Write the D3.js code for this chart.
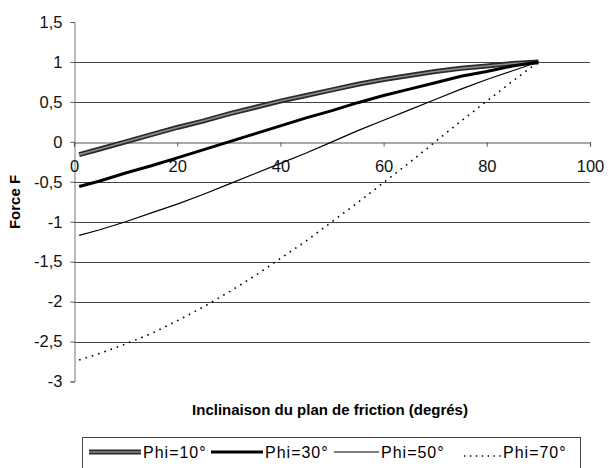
<!DOCTYPE html>
<html>
<head>
<meta charset="utf-8">
<script src="https://cdn.jsdelivr.net/npm/d3@7"></script>
<style>
  body { margin: 0; background: #fff; }
  svg { display: block; font-family: "Liberation Sans", Arial, sans-serif; }
</style>
</head>
<body>
<script>
// angle of the friction plane (degrees)
var angles = [1, 5, 10, 15, 20, 25, 30, 35, 40, 45, 50, 55, 60, 65, 70, 75, 80, 85, 90];
// force values
var phi10 = [-0.16, -0.09, 0, 0.09, 0.18, 0.26, 0.35, 0.43, 0.51, 0.58, 0.65, 0.72, 0.78, 0.83, 0.88, 0.92, 0.95, 0.98, 1];
var phi30 = [-0.56, -0.49, -0.39, -0.30, -0.20, -0.10, 0, 0.10, 0.20, 0.30, 0.39, 0.49, 0.58, 0.66, 0.74, 0.82, 0.88, 0.95, 1];
var phi50 = [-1.17, -1.10, -1.00, -0.89, -0.78, -0.66, -0.53, -0.40, -0.27, -0.14, 0, 0.14, 0.27, 0.40, 0.53, 0.66, 0.78, 0.89, 1];
var phi70 = [-2.73, -2.65, -2.53, -2.40, -2.24, -2.07, -1.88, -1.68, -1.46, -1.24, -1.00, -0.76, -0.51, -0.26, 0, 0.26, 0.51, 0.76, 1];
var seriesNames = ["Phi=10°", "Phi=30°", "Phi=50°", "Phi=70°"];
var xTicks = [0, 20, 40, 60, 80, 100];
var yTicks = [1.5, 1, 0.5, 0, -0.5, -1, -1.5, -2, -2.5, -3];

var width = 608, height = 468;
var svg = d3.select("body").append("svg")
    .attr("width", width)
    .attr("height", height);

var x = d3.scaleLinear().domain([0, 100]).range([74, 590]);
var y = d3.scaleLinear().domain([-3, 1.5]).range([381.5, 22]);

var fmt = function(d){ return String(d).replace(".", ","); };

//horizontal gridlines
svg.selectAll(".grid")
    .data(yTicks.filter(function(d){ return d < 1.5 && d > -3 && d != 0; }))
    .enter()
    .append("line")
    .attr("class", "grid")
    .attr("x1", x(0)).attr("x2", x(100))
    .attr("y1", function(d){ return Math.round(y(d)) + 0.5; })
    .attr("y2", function(d){ return Math.round(y(d)) + 0.5; })
    .style("stroke", "#444")
    .style("stroke-width", 1.2);

//y axis
var yAxis = d3.axisLeft(y).tickValues(yTicks).tickSize(4).tickPadding(8).tickFormat(fmt);
var gy = svg.append("g")
    .attr("transform", "translate(" + (x(0) + 0.5) + ",0)")
    .call(yAxis);
gy.select(".domain").style("stroke", "#777");
gy.selectAll(".tick line").style("stroke", "#555");
gy.selectAll("text").style("font-size", "16.5px").style("fill", "#111");

//x axis placed at F=0
var xAxis = d3.axisBottom(x).tickValues(xTicks).tickSize(4).tickPadding(14);
var gx = svg.append("g")
    .attr("transform", "translate(0," + (Math.round(y(0)) + 0.5) + ")")
    .call(xAxis);
gx.select(".domain").style("stroke", "#555").style("stroke-width", 1.2);
gx.selectAll(".tick line").style("stroke", "#555");
gx.selectAll("text").style("font-size", "16.5px").style("fill", "#111");

//series lines
var line = d3.line()
    .x(function(d, i){ return x(angles[i]); })
    .y(function(d){ return y(d); });

svg.append("path").datum(phi10).attr("d", line)
    .style("fill", "none").style("stroke", "#2a2a2a").style("stroke-width", 5);
svg.append("path").datum(phi10).attr("d", line)
    .style("fill", "none").style("stroke", "#8a8a8a").style("stroke-width", 1.6);
svg.append("path").datum(phi30).attr("d", line)
    .style("fill", "none").style("stroke", "#000").style("stroke-width", 3);
svg.append("path").datum(phi50).attr("d", line)
    .style("fill", "none").style("stroke", "#000").style("stroke-width", 1.2);
svg.append("path").datum(phi70).attr("d", line)
    .style("fill", "none").style("stroke", "#000").style("stroke-width", 1.6)
    .style("stroke-dasharray", "1.6,5");

//axis titles
svg.append("text")
    .attr("x", 330).attr("y", 415)
    .attr("text-anchor", "middle")
    .style("font-size", "15px").style("font-weight", "bold")
    .text("Inclinaison du plan de friction (degrés)");

svg.append("text")
    .attr("transform", "translate(20,202) rotate(-90)")
    .attr("text-anchor", "middle")
    .style("font-size", "15px").style("font-weight", "bold")
    .text("Force F");

//legend
var legend = svg.append("g");
legend.append("rect")
    .attr("x", 82.5).attr("y", 437.5)
    .attr("width", 498).attr("height", 40)
    .style("fill", "none").style("stroke", "#444");

var itemX = [89, 211, 334, 464];
var sampleW = [52, 52, 45, 37];
var ly = 452;
seriesNames.forEach(function(name, i){
    var g = legend.append("g");
    if (i == 0){
        g.append("line").attr("x1", itemX[i]).attr("x2", itemX[i] + sampleW[i]).attr("y1", ly).attr("y2", ly)
            .style("stroke", "#2a2a2a").style("stroke-width", 5);
        g.append("line").attr("x1", itemX[i]).attr("x2", itemX[i] + sampleW[i]).attr("y1", ly).attr("y2", ly)
            .style("stroke", "#8a8a8a").style("stroke-width", 1.6);
    } else if (i == 1){
        g.append("line").attr("x1", itemX[i]).attr("x2", itemX[i] + sampleW[i]).attr("y1", ly).attr("y2", ly)
            .style("stroke", "#000").style("stroke-width", 3);
    } else if (i == 2){
        g.append("line").attr("x1", itemX[i]).attr("x2", itemX[i] + sampleW[i]).attr("y1", ly).attr("y2", ly)
            .style("stroke", "#000").style("stroke-width", 1.2);
    } else {
        g.append("line").attr("x1", itemX[i]).attr("x2", itemX[i] + sampleW[i]).attr("y1", ly + 4).attr("y2", ly + 4)
            .style("stroke", "#000").style("stroke-width", 1.4).style("stroke-dasharray", "1.4,4.5");
    }
    g.append("text")
        .attr("x", itemX[i] + sampleW[i] + 2)
        .attr("y", ly + 6)
        .style("font-size", "16px")
        .style("letter-spacing", "1px")
        .text(name);
});
</script>
</body>
</html>
